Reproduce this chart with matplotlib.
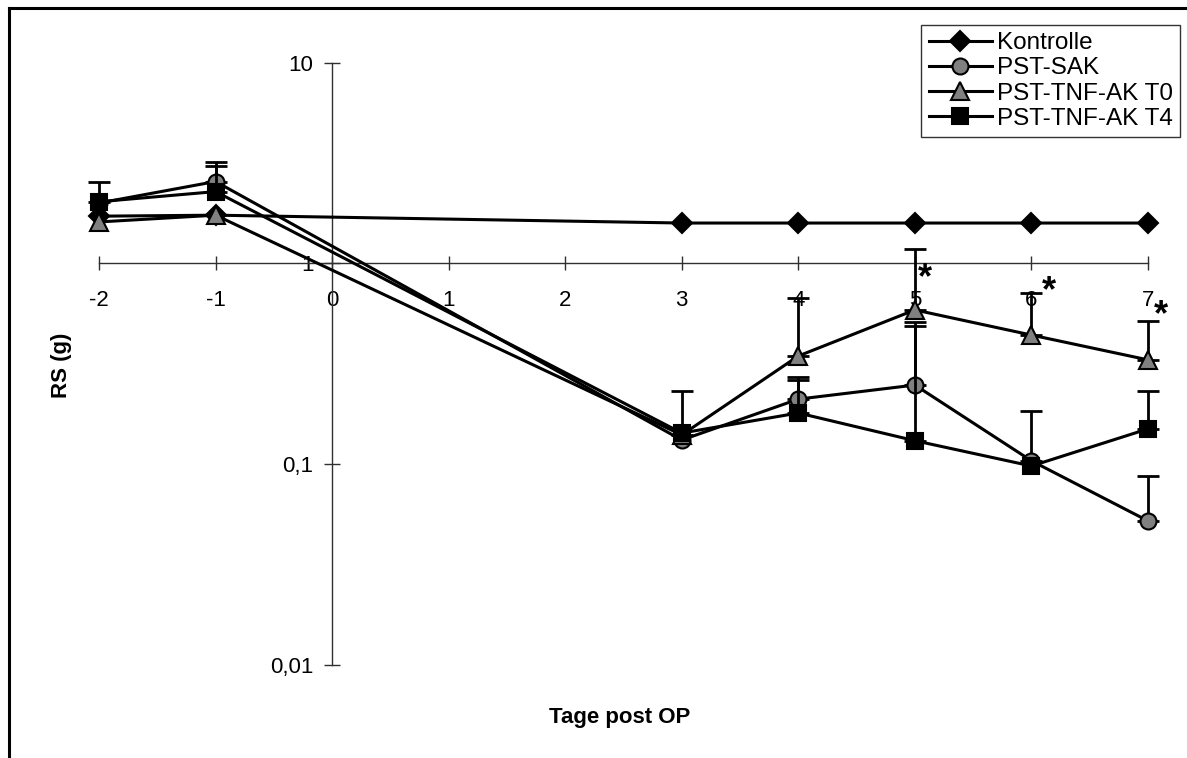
import matplotlib.pyplot as plt
import numpy as np
from matplotlib.lines import Line2D
from matplotlib.ticker import FixedLocator, FixedFormatter, NullLocator

plt.rcParams['font.family'] = ['Liberation Sans', 'DejaVu Sans']

#days post OP (the categories -2 ... 7, data only for some of them)
days = [-2, -1, 3, 4, 5, 6, 7]
x_ticks = [-2, -1, 0, 1, 2, 3, 4, 5, 6, 7]

#mean values and the top end of the (upper) error bars for each group
#nan = no error bar visible in the picture
nan = np.nan
kontrolle = [1.72, 1.74, 1.59, 1.59, 1.59, 1.59, 1.59]
kontrolle_top = [nan, nan, nan, nan, nan, nan, nan]
sak = [2.0, 2.56, 0.132, 0.211, 0.248, 0.104, 0.0522]
sak_top = [nan, 3.21, nan, 0.272, 0.51, 0.184, 0.0874]
tnf_t0 = [1.61, 1.74, 0.14, 0.346, 0.587, 0.44, 0.331]
tnf_t0_top = [nan, nan, 0.232, 0.673, 1.18, 0.716, 0.519]
tnf_t4 = [2.03, 2.28, 0.143, 0.18, 0.131, 0.098, 0.150]
tnf_t4_top = [2.56, 3.07, nan, 0.263, 0.49, nan, 0.232]

#significance stars (day, y position)
star_days = [5, 6, 7]
star_y = [0.84, 0.72, 0.55]

y_ticks = [0.01, 0.1, 1, 10]
y_labels = ['0,01', '0,1', '1', '10']

fig = plt.figure(figsize=(11.87, 7.58), dpi=100)
ax = fig.add_axes([99/1187, 1-665/758, (1148-99)/1187, (665-62.7)/758])

series = [
    ('Kontrolle', kontrolle, kontrolle_top, 'D', 'black', 10),
    ('PST-SAK', sak, sak_top, 'o', '#808080', 11.5),
    ('PST-TNF-AK T0', tnf_t0, tnf_t0_top, '^', '#808080', 12.5),
    ('PST-TNF-AK T4', tnf_t4, tnf_t4_top, 's', 'black', 11.5),
]

for i, (name, vals, tops, mk, fc, ms) in enumerate(series):
    vals = np.array(vals)
    tops = np.array(tops)
    has_err = ~np.isnan(tops)
    if has_err.any():
        ex = np.array(days)[has_err]
        ev = vals[has_err]
        err = tops[has_err] - ev
        ax.errorbar(ex, ev, yerr=[np.zeros_like(ev), err], fmt='none',
                    ecolor='black', elinewidth=2, capsize=8, capthick=2,
                    clip_on=False, zorder=3 + i)
    ax.plot(days, vals, marker=mk, color='black', markerfacecolor=fc,
            markeredgecolor='black', markeredgewidth=1.5, markersize=ms,
            linewidth=2.2, label=name, clip_on=False, zorder=3 + i)

star_dx = [0.09, 0.15, 0.11]
for d, y, dx in zip(star_days, star_y, star_dx):
    ax.text(d + dx, y, '*', fontsize=26, fontweight='bold', ha='center',
            va='center', zorder=10)

ax.set_yscale('log')
ax.set_xlim(-2, 7)
ax.set_ylim(0.01, 10)

ax.spines['top'].set_visible(False)
ax.spines['right'].set_visible(False)
ax.spines['left'].set_position(('data', 0))
ax.spines['bottom'].set_position(('data', 1))
for s in ['left', 'bottom']:
    ax.spines[s].set_color('#303030')
    ax.spines[s].set_linewidth(1)

ax.xaxis.set_major_locator(FixedLocator(x_ticks))
ax.set_xticklabels([str(t) for t in x_ticks])
ax.yaxis.set_major_locator(FixedLocator(y_ticks))
ax.yaxis.set_major_formatter(FixedFormatter(y_labels))
ax.yaxis.set_minor_locator(NullLocator())
ax.tick_params(axis='x', direction='inout', length=10, width=1, color='#303030',
               labelsize=16, pad=14)
ax.tick_params(axis='y', direction='inout', length=11, width=1, color='#303030',
               labelsize=16, pad=8)

fig.text(62/1187, 1-365/758, 'RS (g)', rotation=90, fontsize=16,
         fontweight='bold', ha='center', va='center')
fig.text(620/1187, 1-717/758, 'Tage post OP', fontsize=16,
         fontweight='bold', ha='center', va='center')

leg = ax.legend(loc='upper right', bbox_to_anchor=(1180/1187, 1-25/758),
                bbox_transform=fig.transFigure, borderaxespad=0, fontsize=17.5,
                frameon=True, fancybox=False, edgecolor='black',
                handlelength=2.6, handletextpad=0.2, labelspacing=0.13,
                borderpad=0.3)
leg.get_frame().set_linewidth(1)

#outer frame (only left and top visible in the picture)
fig.add_artist(Line2D([9/1187, 9/1187], [0, 1-8/758], color='black',
                      linewidth=2.2, transform=fig.transFigure))
fig.add_artist(Line2D([9/1187, 1], [1-8/758, 1-8/758], color='black',
                      linewidth=2.2, transform=fig.transFigure))

fig.savefig('out.png', dpi=100)
